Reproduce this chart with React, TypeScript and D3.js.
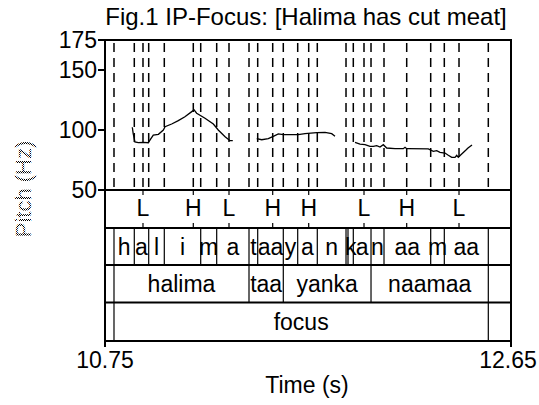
import React from "react";
import * as d3 from "d3";

const W = 539, H = 405;
const T0 = 10.75, T1 = 12.65;
const yTicks = [50, 100, 150, 175];
const xTickLabels = ["10.75", "12.65"];
const title = "Fig.1 IP-Focus: [Halima has cut meat]";

// pitch segments: [time (s), F0 (Hz)]
const pitchSeg1: [number, number][] = [
  [10.8778, 102.3], [10.882, 97], [10.89, 90], [10.906, 89.4], [10.929, 89.7], [10.953, 89.4],
  [10.961, 91.7], [10.976, 95.8], [11.0, 96.4], [11.023, 100], [11.031, 102.8], [11.062, 105],
  [11.093, 107.8], [11.124, 111], [11.156, 115.3], [11.167, 116.7], [11.179, 114], [11.218, 109.8],
  [11.257, 105], [11.28, 100], [11.312, 94.4], [11.335, 91.1], [11.348, 91.1],
];
const pitchSeg2: [number, number][] = [
  [11.46, 92.75], [11.4833, 91.9], [11.5142, 92.75], [11.5376, 94.75], [11.561, 96.7],
  [11.5844, 96.1], [11.6237, 96.1], [11.6546, 96.1], [11.686, 96.9], [11.7407, 97.75],
  [11.7796, 98.1], [11.8109, 96.9], [11.8264, 94.75],
];
const pitchSeg3: [number, number][] = [
  [11.92, 89.75], [11.9434, 88.3], [11.9668, 87.75], [11.9902, 86.4], [12.0056, 86.4],
  [12.0215, 86.9], [12.037, 85.8], [12.0524, 87.75], [12.0683, 85], [12.1072, 84.4],
  [12.146, 84.4], [12.154, 85.6], [12.162, 84.4], [12.1694, 84.4], [12.263, 84.2],
  [12.2864, 82.25], [12.3023, 82.75], [12.3178, 81.4], [12.3412, 80.8], [12.3566, 78.9],
  [12.3725, 77.25], [12.388, 77.25], [12.3959, 78.9], [12.4034, 77.25], [12.4193, 80],
  [12.438, 83.1], [12.4488, 85], [12.4675, 87.5],
];
const pitchSegments = [pitchSeg1, pitchSeg2, pitchSeg3];

// tone tier points
const toneTimes = [10.9278, 11.1632, 11.3303, 11.5348, 11.7033, 11.9621, 12.1619, 12.4067];
const toneLabels = ["L", "H", "L", "H", "H", "L", "H", "L"];

// phone tier boundaries and labels
const phoneBounds = [10.7921, 10.8871, 10.9545, 11.0275, 11.1979, 11.2727, 11.4239, 11.4646,
  11.5844, 11.6518, 11.7435, 11.8779, 11.8872, 11.912, 11.9949, 12.0557, 12.2742, 12.3379, 12.5438];
const phoneLabels = ["h", "a", "l", "i", "m", "a", "t", "aa", "y", "a", "n", "", "k", "a", "n", "aa", "m", "aa"];

// word tier
const wordBounds = [10.7921, 11.4239, 11.5844, 11.9949, 12.5438];
const wordLabels = ["halima", "taa", "yanka", "naamaa"];

// focus tier
const focusBounds = [10.7921, 12.5438];
const focusLabels = ["focus"];

const L = 105, R = 511, TOP = 40, PB = 190;
const tierEdges = [190, 228, 265, 302.5, 341];
const FONT = "'Liberation Sans', Arial, sans-serif";

export default function App() {
  const x = d3.scaleLinear().domain([T0, T1]).range([L, R]);
  const y = d3.scaleLinear().domain([50, 175]).range([PB, TOP]);
  const line = d3.line<[number, number]>().x(d => x(d[0])).y(d => y(d[1]));
  const allTimes = [...phoneBounds, ...toneTimes].sort((a, b) => a - b);
  const dashTimes = allTimes.filter((t, i) => i === 0 || t - allTimes[i - 1] > 0.012);
  const fs = 23;

  const intervalTier = (bounds: number[], labels: string[], ti: number) => {
    const y0 = tierEdges[ti], y1 = tierEdges[ti + 1];
    const cy = (y0 + y1) / 2;
    return (
      <g key={"tier" + ti}>
        {bounds.map((b, i) => (
          <line key={"b" + i} x1={x(b)} x2={x(b)} y1={y0} y2={y1} stroke="#000" strokeWidth={1.2} />
        ))}
        {labels.map((lab, i) => (
          <text key={"l" + i} x={(x(bounds[i]) + x(bounds[i + 1])) / 2} y={cy + 8}
            textAnchor="middle" fontSize={fs} fontFamily={FONT}>{lab}</text>
        ))}
      </g>
    );
  };

  return (
    <svg width={W} height={H} style={{ position: "absolute", left: 0, top: 0, background: "#fff" }}>
      <defs>
        <pattern id="dots" width="2" height="2" patternUnits="userSpaceOnUse">
          <rect width="1" height="1" fill="#000" />
          <rect x="1" y="1" width="1" height="1" fill="#000" />
        </pattern>
      </defs>
      <rect width={W} height={H} fill="#fff" />
      <text x={306} y={25} textAnchor="middle" fontSize={24} fontFamily={FONT}>{title}</text>

      {/* dashed boundary lines in pitch area */}
      {dashTimes.map((t, i) => (
        <line key={"d" + i} x1={x(t)} x2={x(t)} y1={TOP} y2={PB} stroke="#000" strokeWidth={1.5}
          strokeDasharray="9,6" strokeDashoffset={-3} />
      ))}

      {/* pitch contour */}
      {pitchSegments.map((s, i) => (
        <path key={"p" + i} d={line(s) || ""} fill="none" stroke="#000" strokeWidth={1.3} />
      ))}

      {/* tone tier */}
      {toneTimes.map((t, i) => (
        <g key={"t" + i}>
          <line x1={x(t)} x2={x(t)} y1={190} y2={195} stroke="#000" strokeWidth={1.2} />
          <line x1={x(t)} x2={x(t)} y1={223} y2={228} stroke="#000" strokeWidth={1.2} />
          <text x={x(t)} y={216} textAnchor="middle" fontSize={fs} fontFamily={FONT}>{toneLabels[i]}</text>
        </g>
      ))}

      {intervalTier(phoneBounds, phoneLabels, 1)}
      {intervalTier(wordBounds, wordLabels, 2)}
      {intervalTier(focusBounds, focusLabels, 3)}

      {/* tier separators */}
      {tierEdges.slice(0, 4).map((e, i) => (
        <line key={"s" + i} x1={L} x2={R} y1={e} y2={e} stroke="#000" strokeWidth={2} />
      ))}
      <rect x={L} y={TOP} width={R - L} height={341 - TOP} fill="none" stroke="#000" strokeWidth={2} />

      {/* y axis */}
      {yTicks.map(v => (
        <g key={"y" + v}>
          <line x1={98} x2={L} y1={y(v)} y2={y(v)} stroke="#000" strokeWidth={2} />
          <text x={97} y={y(v) + 8} textAnchor="end" fontSize={fs} fontFamily={FONT}>{v}</text>
        </g>
      ))}

      {/* x axis */}
      {[T0, T1].map((t, i) => (
        <g key={"x" + i}>
          <line x1={x(t)} x2={x(t)} y1={341} y2={347} stroke="#000" strokeWidth={2} />
          <text x={x(t) - (i === 1 ? 3 : 0)} y={368} textAnchor="middle" fontSize={fs} fontFamily={FONT}>{xTickLabels[i]}</text>
        </g>
      ))}
      <text x={307} y={393} textAnchor="middle" fontSize={fs} fontFamily={FONT}>Time (s)</text>
      <text transform="translate(31,189) rotate(-90)" textAnchor="middle" fontSize={22}
        fontFamily={FONT} fill="url(#dots)">Pitch (Hz)</text>
    </svg>
  );
}
